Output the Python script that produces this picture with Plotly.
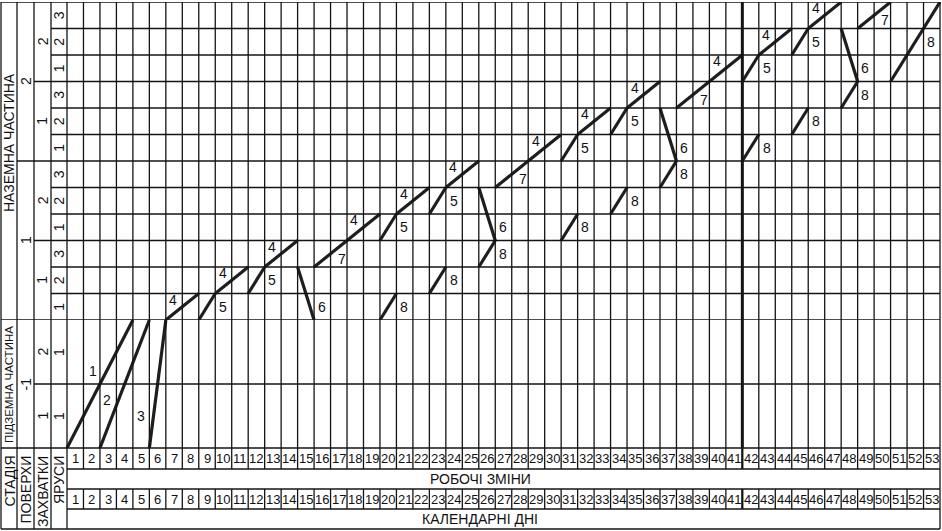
import plotly.graph_objects as go

# Розміри полотна (px)
W, H = 942, 531

# Межі сітки у пікселях
TOP, GROUND, UG_BOTTOM = 2, 320, 448
ROW_SHIFT, ROW_SHIFT_TXT, ROW_DAYS, BOTTOM = 469, 489, 509, 529
HEAD_X = [1, 17, 34, 51]      # лівий стовпчик заголовків
GRID_X0 = 67                  # початок сітки днів

# Вісь x у днях: день 0 -> 67 px, день 53 -> 940 px
N_DAYS = 53
PX_PER_DAY = (940 - GRID_X0) / N_DAYS
XMIN = -GRID_X0 / PX_PER_DAY
XMAX = XMIN + W / PX_PER_DAY

# ---- Дані циклограми ----
# Надземна частина: рівні 0..12 (поверх 1: 0-6, поверх 2: 6-12; захватка = 3 яруси)
proc = ['4', '5', '4', '5', '4', '6', '7', '4', '5', '8',
        '4', '5', '8', '4', '6', '8', '7', '4', '5', '8',
        '4', '5', '8', '4', '6', '8', '7', '4', '5', '8',
        '4', '5', '8', '4', '6', '8', '7', '8']
t_start = [6, 8, 9, 11, 12, 14, 15, 17, 19, 19,
           20, 22, 22, 23, 25, 25, 26, 28, 30, 30,
           31, 33, 33, 34, 36, 36, 37, 39, 41, 41,
           42, 44, 44, 45, 47, 47, 48, 50]
t_end = [8, 9, 11, 12, 14, 15, 17, 19, 20, 20,
         22, 23, 23, 25, 26, 26, 28, 30, 31, 31,
         33, 34, 34, 36, 37, 37, 39, 41, 42, 42,
         44, 45, 45, 47, 48, 48, 50, 53]
lvl_start = [0, 0, 1, 1, 2, 2, 2, 3, 3, 0,
             4, 4, 1, 5, 5, 2, 5, 6, 6, 3,
             7, 7, 4, 8, 8, 5, 8, 9, 9, 6,
             10, 10, 7, 11, 11, 8, 11, 9]
lvl_end = [1, 1, 2, 2, 3, 0, 3, 4, 4, 1,
           5, 5, 2, 6, 3, 3, 6, 7, 7, 4,
           8, 8, 5, 9, 6, 6, 9, 10, 10, 7,
           11, 11, 8, 12, 9, 9, 12, 12]

# Підземна частина: захватки 0..2
ug_proc = ['1', '2', '3']
ug_t_start = [0, 2, 5]
ug_t_end = [4, 5, 6]
ug_start = [0, 0, 0]
ug_end = [2, 2, 2]

# Підписи
shift_labels = [str(i) for i in range(1, N_DAYS + 1)]
day_labels = [str(i) for i in range(1, N_DAYS + 1)]
tier_labels = ['1', '2', '3', '1', '2', '3', '1', '2', '3', '1', '2', '3']
zone_labels = ['1', '2', '1', '2']
floor_labels = ['1', '2']
ug_tier_labels = ['1', '1']
ug_zone_labels = ['1', '2']
ug_floor_label = '-1'
stage_labels = ['НАЗЕМНА ЧАСТИНА', 'ПІДЗЕМНА ЧАСТИНА']
head_labels = ['СТАДІЯ', 'ПОВЕРХИ', 'ЗАХВАТКИ', 'ЯРУСИ']
row_titles = ['РОБОЧІ ЗМІНИ', 'КАЛЕНДАРНІ ДНІ']

# Зміщення підписів процесів відносно середини відрізка (px)
LABEL_SHIFT = {'1': (-7, 13), '2': (-18, -16), '3': (-17, -32),
               '4': (-9, 7), '5': (16, 0), '6': (16, -13),
               '7': (11, -5), '8': (16, 0)}

FONT = 'Liberation Sans, Arial, sans-serif'
INK = '#141414'


def py(px):
    """піксель по вертикалі -> координата paper"""
    return 1 - px / H


def pxp(px):
    """піксель по горизонталі -> координата paper"""
    return px / W


def day_paper(t):
    return (t - XMIN) / (XMAX - XMIN)


fig = go.Figure()

# Лінії процесів (надземна частина)
xs, ys = [], []
for a, b, c, d in zip(t_start, t_end, lvl_start, lvl_end):
    xs += [a, b, None]
    ys += [c, d, None]
fig.add_trace(go.Scatter(x=xs, y=ys, mode='lines', yaxis='y',
                         line=dict(color='#1e1e1e', width=3.2),
                         hoverinfo='skip', showlegend=False))

# Лінії процесів (підземна частина)
xs, ys = [], []
for a, b, c, d in zip(ug_t_start, ug_t_end, ug_start, ug_end):
    xs += [a, b, None]
    ys += [c, d, None]
fig.add_trace(go.Scatter(x=xs, y=ys, mode='lines', yaxis='y2',
                         line=dict(color='#1e1e1e', width=3.2),
                         hoverinfo='skip', showlegend=False))

shapes = []


def hline(y, x0, x1, yref='paper', width=1.3):
    shapes.append(dict(type='line', xref='paper', yref=yref, x0=x0, x1=x1,
                       y0=y, y1=y, line=dict(color=INK, width=width)))


def vline(x, y0, y1, xref='x', width=1.3):
    shapes.append(dict(type='line', xref=xref, yref='paper', x0=x, x1=x,
                       y0=y0, y1=y1, line=dict(color=INK, width=width)))


right = day_paper(N_DAYS)

# Горизонтальні лінії надземної частини
for k in range(0, 13):
    if k in (0, 12):
        start = HEAD_X[0]
    elif k == 6:
        start = HEAD_X[1]
    elif k in (3, 9):
        start = HEAD_X[2]
    else:
        start = HEAD_X[3]
    hline(k, pxp(start), right, yref='y')

# Підземна частина
hline(1, pxp(HEAD_X[2]), right, yref='y2')
hline(py(UG_BOTTOM), pxp(HEAD_X[0]), right)

# Нижня таблиця
for y in (ROW_SHIFT, ROW_SHIFT_TXT, ROW_DAYS):
    hline(py(y), pxp(GRID_X0), right)
hline(py(BOTTOM), pxp(HEAD_X[0]), right)

# Вертикальні лінії днів (41-й день виділено товстою лінією)
for t in range(1, N_DAYS):
    vline(t, py(ROW_SHIFT), py(TOP))
    vline(t, py(ROW_DAYS), py(ROW_SHIFT_TXT))
    if t == 41:
        vline(t, py(UG_BOTTOM), py(TOP), width=3)
        vline(t, py(ROW_SHIFT), py(UG_BOTTOM), width=2.2)
        vline(t, py(ROW_DAYS), py(ROW_SHIFT_TXT), width=2.2)
vline(0, py(BOTTOM), py(TOP))
vline(N_DAYS, py(BOTTOM), py(TOP))

# Стовпчики заголовків
for x in HEAD_X:
    vline(pxp(x), py(BOTTOM), py(TOP), xref='paper')

annotations = []


def text(s, x, y, xref='paper', yref='paper', size=14, angle=0,
         xshift=0, yshift=0, yanchor='middle'):
    annotations.append(dict(text=s, x=x, y=y, xref=xref, yref=yref,
                            showarrow=False, textangle=angle,
                            xanchor='center', yanchor=yanchor,
                            xshift=xshift, yshift=yshift,
                            font=dict(family=FONT, size=size, color='#111')))


# Підписи процесів
for p, a, b, c, d in zip(proc, t_start, t_end, lvl_start, lvl_end):
    dx, dy = LABEL_SHIFT[p]
    text(p, (a + b) / 2, (c + d) / 2, xref='x', yref='y', xshift=dx, yshift=dy)
for p, a, b, c, d in zip(ug_proc, ug_t_start, ug_t_end, ug_start, ug_end):
    dx, dy = LABEL_SHIFT[p]
    text(p, (a + b) / 2, (c + d) / 2, xref='x', yref='y2', xshift=dx, yshift=dy)

# Номери змін і днів
for i, (s, d) in enumerate(zip(shift_labels, day_labels)):
    text(s, i + 0.5, py((UG_BOTTOM + ROW_SHIFT) / 2), xref='x', size=13)
    text(d, i + 0.5, py((ROW_SHIFT_TXT + ROW_DAYS) / 2), xref='x', size=13)
text(row_titles[0], pxp(480), py((ROW_SHIFT + ROW_SHIFT_TXT) / 2))
text(row_titles[1], pxp(480), py((ROW_DAYS + BOTTOM) / 2))

# Ліві заголовки
cx = [(HEAD_X[i] + (HEAD_X[i + 1] if i < 3 else GRID_X0)) / 2 for i in range(4)]
for k, s in enumerate(tier_labels):
    text(s, pxp(cx[3]), k + 0.5, yref='y', angle=-90)
for k, s in enumerate(zone_labels):
    text(s, pxp(cx[2]), 3 * k + 1.5, yref='y', angle=-90)
for k, s in enumerate(floor_labels):
    text(s, pxp(cx[1]), 6 * k + 3, yref='y', angle=-90)
for k, s in enumerate(ug_tier_labels):
    text(s, pxp(cx[3]), k + 0.5, yref='y2', angle=-90)
for k, s in enumerate(ug_zone_labels):
    text(s, pxp(cx[2]), k + 0.5, yref='y2', angle=-90)
text(ug_floor_label, pxp(cx[1]), 1, yref='y2', angle=-90)
text(stage_labels[0], pxp(cx[0]), py(143), angle=-90)
text(stage_labels[1], pxp(cx[0]), py(385), angle=-90, size=11.5)
for i, s in enumerate(head_labels):
    text(s, pxp(cx[i]), py(454), angle=-90, yanchor='top')

fig.update_layout(
    width=W, height=H,
    margin=dict(l=0, r=0, t=0, b=0),
    paper_bgcolor='white', plot_bgcolor='white',
    xaxis=dict(range=[XMIN, XMAX], domain=[0, 1], visible=False, fixedrange=True),
    yaxis=dict(range=[0, 12], domain=[py(GROUND), py(TOP)], visible=False,
               fixedrange=True),
    yaxis2=dict(range=[0, 2], domain=[py(UG_BOTTOM), py(GROUND)], visible=False,
                fixedrange=True, anchor='x'),
    shapes=shapes,
    annotations=annotations,
    showlegend=False,
)

# прибрати відступ body, щоб графік займав усе вікно
fig.write_html("out.html", config={'displayModeBar': False},
               post_script="document.body.style.margin='0';"
                           "document.body.style.overflow='hidden';")
